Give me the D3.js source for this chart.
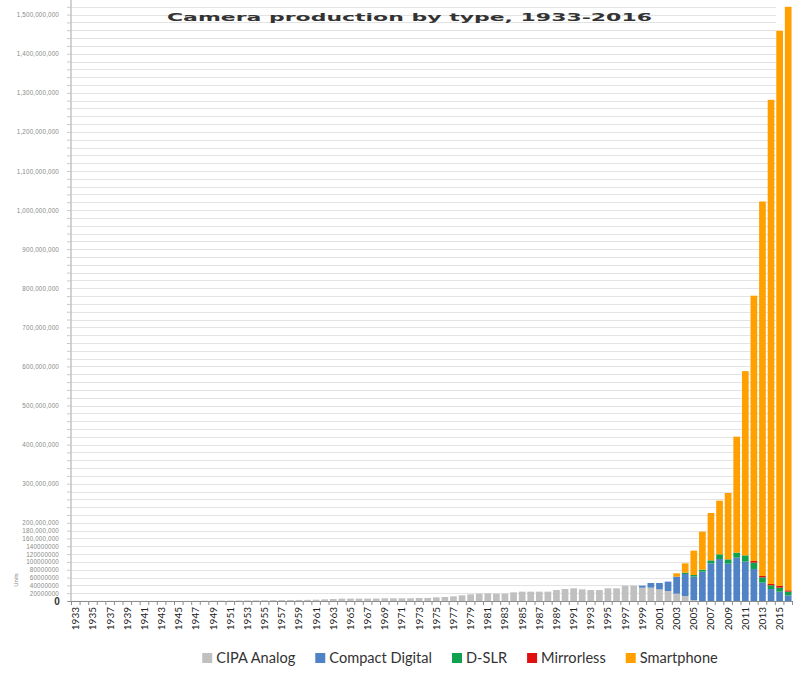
<!DOCTYPE html>
<html><head><meta charset="utf-8">
<script src="https://cdn.jsdelivr.net/npm/d3@7"></script>
<style>body{margin:0;background:#fff} svg{display:block}</style>
</head><body>
<svg id="chart" width="800" height="675"></svg>
<script>
const title = "Camera production by type, 1933-2016";
const years = d3.range(1933, 2017);
const seriesNames = ["CIPA Analog", "Compact Digital", "D-SLR", "Mirrorless", "Smartphone"];
const seriesColors = ["#c0c0c0", "#4f83c6", "#10a14e", "#e01010", "#ffa000"];

// values in millions of units
const analog = [
  0.3,0.3,0.4,0.4,0.5,0.5,0.5,0.4,0.4,0.3,0.3,0.2,0.2,
  0.4,0.6,0.7,0.8,1.0,1.1,1.3,1.5,1.7,1.9,2.1,2.3,2.4,2.7,3.0,
  3.4,4.3,5.1,6.0,6.0,6.0,6.0,6.2,6.8,6.8,6.8,7.0,7.7,7.7,9.4,10.2,11.9,14.5,17.0,18.8,
  19.6,18.8,18.8,22.2,23.9,23.9,23.9,23.9,28.1,30.7,32.4,29.8,28.1,28.1,32.4,32.4,39.2,39.2,34.1,34.1,
  29.8,25.6,18.8,12.8,2.0,0,0,0,0,0,0,0,0,0,0,0
];
const compactStart = 1999;
const compactDigital = [5.1,11.9,16.2,24.0,43.5,56.3,60.3,75.0,96.4,107.5,95.5,110.9,100.6,81.9,46.9,30.7,23.9,14.5];
const dslrStart = 2004;
const dslr = [3.4,4.2,5.2,7.6,11.9,11.1,12.8,16.2,16.2,13.6,9.4,10.2,9.4];
const mirrorlessStart = 2012;
const mirrorless = [4.2,3.5,3.4,4.3,3.4];
const smartphoneStart = 2003;
const smartphone = [8.5,23.9,62.3,97.2,121.1,137.3,169.7,296.7,471.2,678.7,958.0,1238.5,1420.6,1492.7];

const yTickValues = [0,20,40,60,80,100,120,140,160,180,200,300,400,500,600,700,800,900,1000,1100,1200,1300,1400,1500];
const yTickLabels = ["0","20000000","40000000","60000000","80000000","100000000","120000000","140000000",
  "160,000,000","180,000,000","200,000,000","300,000,000","400,000,000","500,000,000","600,000,000",
  "700,000,000","800,000,000","900,000,000","1,000,000,000","1,100,000,000","1,200,000,000",
  "1,300,000,000","1,400,000,000","1,500,000,000"];
const yMax = 1520;
const gridStep = 20;

function seriesAt(arr, start, yr) { const i = yr - start; return (i >= 0 && i < arr.length) ? arr[i] : 0; }
const table = years.map((yr, i) => ({
  year: yr,
  "CIPA Analog": analog[i],
  "Compact Digital": seriesAt(compactDigital, compactStart, yr),
  "D-SLR": seriesAt(dslr, dslrStart, yr),
  "Mirrorless": seriesAt(mirrorless, mirrorlessStart, yr),
  "Smartphone": seriesAt(smartphone, smartphoneStart, yr)
}));

const svg = d3.select("#chart");
const left = 71.5, right = 792.5, bottom = 601;
const x = d3.scaleBand().domain(years).range([left, right]).paddingInner(0.22).paddingOuter(0.11);
const y = d3.scaleLinear().domain([0, yMax]).range([bottom, 6.8]);
const color = d3.scaleOrdinal().domain(seriesNames).range(seriesColors);

// gridlines
const gridVals = d3.range(gridStep, yMax + 1, gridStep);
svg.append("g").selectAll("line").data(gridVals).join("line")
  .attr("x1", left).attr("x2", 776)
  .attr("y1", d => Math.round(y(d)) + 0.5).attr("y2", d => Math.round(y(d)) + 0.5)
  .attr("stroke", "#e3e3e3").attr("stroke-width", 1);

// y axis
const yAxis = d3.axisLeft(y).tickValues(d3.range(0, yMax + 1, gridStep)).tickSize(4)
  .tickFormat(d => { const k = yTickValues.indexOf(d); return k >= 0 ? yTickLabels[k] : ""; });
const gy = svg.append("g").attr("transform", `translate(${left - 0.5},0)`).call(yAxis);
gy.select(".domain").attr("stroke", "#a6a6a6").attr("d", `M0,0V${bottom}`);
gy.selectAll(".tick line").attr("stroke", "#c8c8c8");
gy.selectAll(".tick text").attr("x", -12).attr("font-family", "Liberation Sans, Arial, sans-serif")
  .attr("font-size", 6.3).attr("fill", "#8a8a8a").attr("letter-spacing", 0.15);
gy.selectAll(".tick").filter(d => d === 0).select("text")
  .attr("font-size", 10).attr("fill", "#333").attr("font-weight", "bold").attr("x", -11);

// bars
const stacked = d3.stack().keys(seriesNames)(table);
svg.append("g").selectAll("g").data(stacked).join("g").attr("fill", d => color(d.key))
  .selectAll("rect").data(d => d).join("rect")
  .attr("x", d => x(d.data.year)).attr("width", x.bandwidth())
  .attr("y", d => y(d[1])).attr("height", d => Math.max(0, y(d[0]) - y(d[1])));

// x axis
svg.append("line").attr("x1", left - 4).attr("x2", right).attr("y1", bottom + 0.5).attr("y2", bottom + 0.5)
  .attr("stroke", "#8c8c8c");
const step = x.step();
svg.append("g").selectAll("line").data(years.concat([null])).join("line")
  .attr("x1", d => d === null ? right : x(d) - step * x.paddingInner() / 2)
  .attr("x2", d => d === null ? right : x(d) - step * x.paddingInner() / 2)
  .attr("y1", bottom).attr("y2", bottom + 4).attr("stroke", "#8c8c8c");
svg.append("g").selectAll("text").data(years.filter((d, i) => i % 2 === 0)).join("text")
  .attr("transform", d => `translate(${x(d) + x.bandwidth() / 2 + 3.5},607) rotate(-90)`)
  .attr("text-anchor", "end").attr("font-family", "Lato, sans-serif").attr("font-size", 10)
  .attr("fill", "#222").text(d => d);

// y title
svg.append("text").attr("transform", "translate(18,580) rotate(-90)").attr("text-anchor", "middle")
  .attr("font-family", "Liberation Sans, sans-serif").attr("font-size", 6).attr("fill", "#888").text("Units");

// title
svg.append("text").attr("x", 167).attr("y", 21).attr("textLength", 485).attr("lengthAdjust", "spacingAndGlyphs")
  .attr("font-family", "DejaVu Sans, sans-serif").attr("font-weight", "bold").attr("font-size", 10)
  .attr("fill", "#333").text(title);

// legend
const lg = svg.append("g");
const items = lg.selectAll("g").data(seriesNames).join("g");
items.append("rect").attr("width", 10).attr("height", 10).attr("y", 653).attr("fill", d => color(d));
items.append("text").attr("x", 14).attr("y", 663).attr("font-family", "Lato, sans-serif")
  .attr("font-size", 14.6).attr("fill", "#333").text(d => d);
let widths = [];
items.each(function() { widths.push(14 + d3.select(this).select("text").node().getComputedTextLength()); });
const gap = 20;
const total = d3.sum(widths) + gap * (widths.length - 1);
let cx = 460 - total / 2;
items.each(function(d, i) { d3.select(this).attr("transform", `translate(${cx},0)`); cx += widths[i] + gap; });
</script>
</body></html>
